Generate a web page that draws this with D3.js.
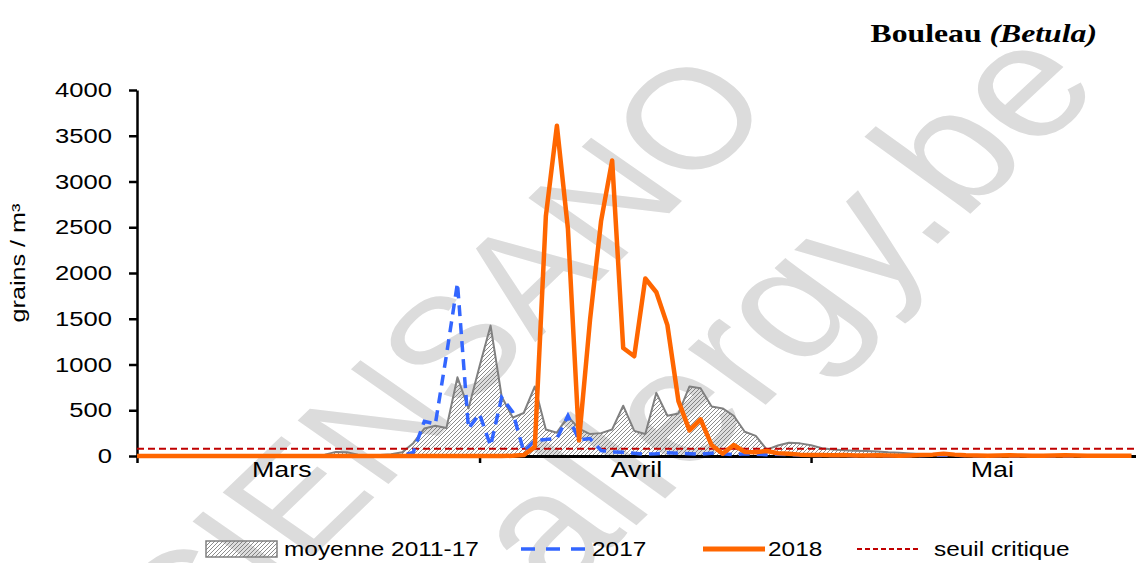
<!DOCTYPE html>
<html>
<head>
<meta charset="utf-8">
<script src="https://cdn.jsdelivr.net/npm/d3@7"></script>
<style>
  body { margin: 0; background: #fff; }
  text { font-family: "Liberation Sans", Arial, sans-serif; }
</style>
</head>
<body>
<div id="chart"></div>
<script>
// daily values, 1 March -> 30 May (grains / m3)
var moyenne = [2,2,3,3,2,3,4,5,4,3,5,6,5,4,6,8,10,
  15,45,40,15,10,12,20,40,
  140,300,330,305,860,520,980,1425,650,420,470,760,
  290,255,430,300,240,250,290,550,275,240,690,440,
  465,760,740,540,520,440,265,220,70,115,145,138,
  118,85,70,62,58,55,48,40,35,28,22,22,18,15,12,10,
  8,6,5,5,4,4,3,3,3,2,2,2,2,2];

var y2017 = [0,0,0,0,0,0,0,0,0,0,0,0,0,0,0,0,0,0,0,0,0,0,0,0,
  5,40,380,350,1100,1890,300,460,110,640,480,50,170,
  180,190,440,175,190,60,45,40,30,20,25,35,
  30,25,20,30,25,15,25,20,15,20,15,10,
  8,6,5,5,4,4,3,3,3,2,5,8,10,8,5,3,2,2,1,1,1,1,0,0,0,0,0,0,0,0];

var y2018 = [0,0,0,0,0,0,0,0,0,0,0,0,0,0,0,0,0,0,0,0,0,0,0,0,0,0,0,0,0,0,0,0,0,0,2,
  10,100,2620,3610,2480,170,1490,2570,3230,1180,1090,1940,
  1790,1430,600,280,400,120,25,120,45,40,55,30,
  25,15,10,12,8,10,6,5,8,5,4,6,10,15,25,15,8,5,4,6,8,5,4,3,5,8,6,4,3,2,2,2];

var seuil = 80;
var yTicks = [0,500,1000,1500,2000,2500,3000,3500,4000];
var months = ["Mars","Avril","Mai"];
var monthStarts = [0, 31, 61];        // day offsets from 1 March
var monthLabelAt = [13.1, 45.2, 77.4]; // where the labels sit
var legendLabels = ["moyenne 2011-17", "2017", "2018", "seuil critique"];

var width = 1136, height = 563;
var sx = 1.22; // the reference is stretched sideways

var start = new Date(Date.UTC(2018, 2, 1));
function day(i){ return d3.utcDay.offset(start, i); }
function dayF(f){ return new Date(start.getTime() + f * 864e5); }

var xScale = d3.scaleUtc()
    .domain([start, day(92)])
    .range([137, 137 + 92 * 11.05]);

var yScale = d3.scaleLinear()
    .domain([0, 4000])
    .range([456, 90]);

var svg = d3.select("#chart")
  .append("svg")
  .attr("width", width)
  .attr("height", height)
  .style("display", "block");

var defs = svg.append("defs");
defs.append("pattern")
  .attr("id", "hatch")
  .attr("patternUnits", "userSpaceOnUse")
  .attr("width", 4)
  .attr("height", 4)
  .append("path")
  .attr("d", "M-1,1 l2,-2 M0,4 l4,-4 M3,5 l2,-2")
  .attr("stroke", "#666")
  .attr("stroke-width", 0.75);

// watermark
var wm = svg.append("g").attr("transform", "scale(" + sx + ",1)");
wm.append("text")
  .attr("transform", "translate(96,745) rotate(-49.6)")
  .style("font-size", "142px")
  .attr("fill", "#dcdcdc")
  .text("SCIENSANO");
wm.append("text")
  .attr("transform", "translate(455.9,600) rotate(-48.7)")
  .style("font-size", "160px")
  .attr("fill", "#dcdcdc")
  .text("allergy.be");

// stretched text helper
function stext(g, x, y, str, size, anchor){
  return g.append("text")
    .attr("transform", "translate(" + x + "," + y + ") scale(" + sx + ",1)")
    .attr("text-anchor", anchor || "start")
    .style("font-size", size + "px")
    .text(str);
}

// average area
var area = d3.area()
  .x(function(d, i){ return xScale(day(i)); })
  .y0(yScale(0))
  .y1(function(d){ return yScale(d); });

var line = d3.line()
  .x(function(d, i){ return xScale(day(i)); })
  .y(function(d){ return yScale(d); });

svg.append("path")
  .datum(moyenne)
  .attr("d", area)
  .attr("fill", "url(#hatch)");

svg.append("path")
  .datum(moyenne)
  .attr("d", line)
  .attr("fill", "none")
  .attr("stroke", "#808080")
  .attr("stroke-width", 2)
  .attr("stroke-linejoin", "round");

// axes
var xAxis = svg.append("g")
  .attr("transform", "translate(0," + yScale(0) + ")")
  .call(d3.axisBottom(xScale)
    .tickValues(monthStarts.map(day))
    .tickSize(7)
    .tickSizeOuter(0)
    .tickFormat(""));
xAxis.select(".domain").attr("stroke", "#000").attr("stroke-width", 3);
xAxis.selectAll(".tick line").attr("stroke", "#000").attr("stroke-width", 2.5);

var yAxis = svg.append("g")
  .attr("transform", "translate(" + xScale(start) + ",0)")
  .call(d3.axisLeft(yScale)
    .tickValues(yTicks)
    .tickFormat(d3.format("d"))
    .tickSize(8)
    .tickSizeOuter(0)
    .tickPadding(12.5));
yAxis.select(".domain").attr("stroke", "#000").attr("stroke-width", 2.5);
yAxis.selectAll(".tick line").attr("stroke", "#000").attr("stroke-width", 2.5);
yAxis.selectAll(".tick text")
  .attr("transform", "scale(" + sx + ",1)")
  .attr("fill", "#000")
  .style("font-size", "21px")
  .style("font-family", "Liberation Sans, Arial, sans-serif");

months.forEach(function(m, i){
  stext(svg, xScale(dayF(monthLabelAt[i])), 477, m, 22, "middle");
});

// threshold
svg.append("line")
  .attr("x1", xScale(start))
  .attr("x2", width)
  .attr("y1", yScale(seuil))
  .attr("y2", yScale(seuil))
  .attr("stroke", "#c00000")
  .attr("stroke-width", 2)
  .attr("stroke-dasharray", "7,4");

svg.append("path")
  .datum(y2017)
  .attr("d", line)
  .attr("fill", "none")
  .attr("stroke", "#3366ff")
  .attr("stroke-width", 3.5)
  .attr("stroke-dasharray", "11,7");

svg.append("path")
  .datum(y2018)
  .attr("d", line)
  .attr("fill", "none")
  .attr("stroke", "#ff6600")
  .attr("stroke-width", 4.5)
  .attr("stroke-linejoin", "round");

// y title
svg.append("text")
  .attr("transform", "translate(25,263) rotate(-90) scale(1.2,0.95)")
  .attr("text-anchor", "middle")
  .style("font-size", "21px")
  .text("grains / m\u00b3");

// title
var t = svg.append("text")
  .attr("transform", "translate(1097,42) scale(" + sx + ",1)")
  .attr("text-anchor", "end")
  .style("font-family", "Liberation Serif, Times New Roman, serif")
  .style("font-size", "26px")
  .style("font-weight", "bold");
t.append("tspan").text("Bouleau ");
t.append("tspan").style("font-style", "italic").text("(Betula)");

// legend
var ly = 549, lt = 556;
svg.append("rect")
  .attr("x", 206).attr("y", 541)
  .attr("width", 71).attr("height", 16)
  .attr("fill", "url(#hatch)")
  .attr("stroke", "#808080")
  .attr("stroke-width", 1.5);
stext(svg, 284, lt, legendLabels[0], 20);

svg.append("line")
  .attr("x1", 521).attr("x2", 585).attr("y1", ly).attr("y2", ly)
  .attr("stroke", "#3366ff").attr("stroke-width", 3.5)
  .attr("stroke-dasharray", "14,11");
stext(svg, 592, lt, legendLabels[1], 20);

svg.append("line")
  .attr("x1", 703).attr("x2", 765).attr("y1", ly).attr("y2", ly)
  .attr("stroke", "#ff6600").attr("stroke-width", 5);
stext(svg, 768, lt, legendLabels[2], 20);

svg.append("line")
  .attr("x1", 857).attr("x2", 918).attr("y1", ly).attr("y2", ly)
  .attr("stroke", "#c00000").attr("stroke-width", 2)
  .attr("stroke-dasharray", "5,3");
stext(svg, 934, lt, legendLabels[3], 20);
</script>
</body>
</html>
